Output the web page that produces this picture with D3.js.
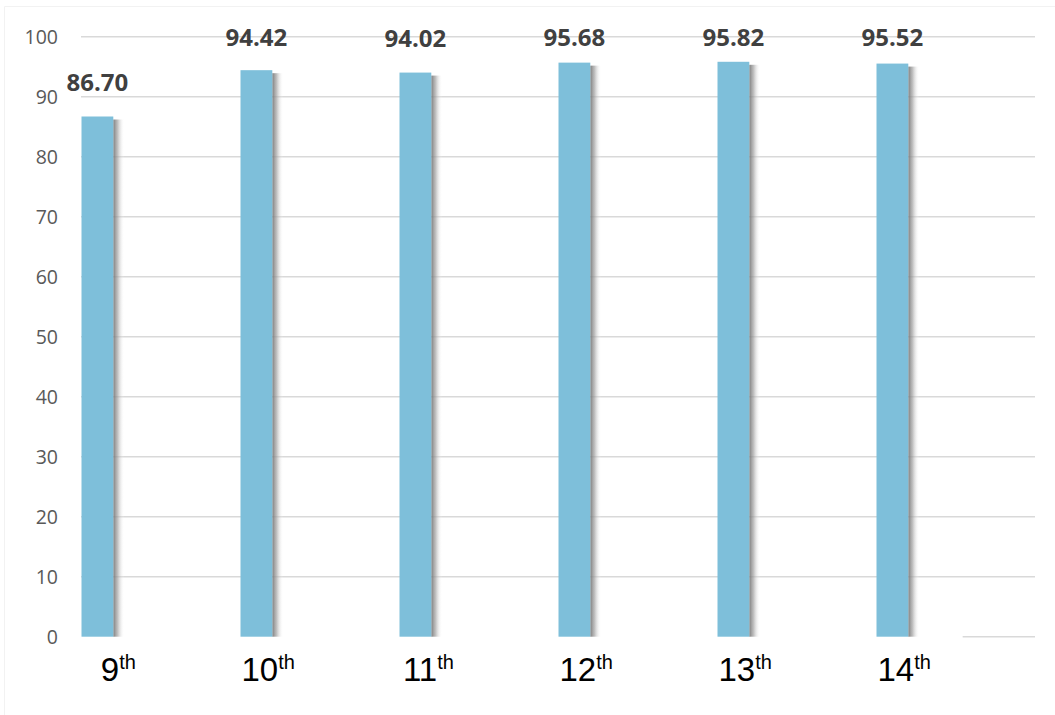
<!DOCTYPE html>
<html>
<head>
<meta charset="utf-8">
<script src="https://cdn.jsdelivr.net/npm/d3@7"></script>
<style>
  html, body { margin: 0; padding: 0; background: #fff; }
  svg { display: block; }
</style>
</head>
<body>
<svg id="chart" width="1055" height="715"></svg>
<script>
// ---- data ----
const categoryNumbers = ["9", "10", "11", "12", "13", "14"];
const categorySuffixes = ["th", "th", "th", "th", "th", "th"];
const values = [86.70, 94.42, 94.02, 95.68, 95.82, 95.52];
const yTicks = [0, 10, 20, 30, 40, 50, 60, 70, 80, 90, 100];

// ---- layout ----
const W = 1055, H = 715;
const plot = { left: 81, right: 1035, top: 36.7, bottom: 636.7 };
const svg = d3.select("#chart");

const x = d3.scaleBand().domain(categoryNumbers).range([plot.left, plot.right]).paddingInner(0).paddingOuter(0);
const y = d3.scaleLinear().domain([0, 100]).range([plot.bottom, plot.top]);
const bw = x.bandwidth();
const barW = bw * 0.2;

// defs: shadow gradient
const defs = svg.append("defs");
const grad = defs.append("linearGradient").attr("id", "shadowGrad").attr("x1", "0").attr("x2", "1").attr("y1", "0").attr("y2", "0");
grad.append("stop").attr("offset", "0%").attr("stop-color", "#707070").attr("stop-opacity", 0.9);
grad.append("stop").attr("offset", "40%").attr("stop-color", "#a0a0a0").attr("stop-opacity", 0.65);
grad.append("stop").attr("offset", "100%").attr("stop-color", "#ffffff").attr("stop-opacity", 0);

// faint outer border (top and left only)
svg.append("line").attr("x1", 4.5).attr("x2", W).attr("y1", 6.5).attr("y2", 6.5)
  .attr("stroke", "#f2f2f2").attr("stroke-width", 1);
svg.append("line").attr("x1", 4.5).attr("x2", 4.5).attr("y1", 6.5).attr("y2", H)
  .attr("stroke", "#f2f2f2").attr("stroke-width", 1);

// gridlines (excluding 0)
svg.append("g").selectAll("line").data(yTicks.filter(d => d !== 0)).join("line")
  .attr("x1", plot.left).attr("x2", plot.right)
  .attr("y1", d => y(d)).attr("y2", d => y(d))
  .attr("stroke", "#d9d9d9").attr("stroke-width", 1.5);

// partial baseline at right end
svg.append("line")
  .attr("x1", plot.right - bw * 0.455).attr("x2", plot.right)
  .attr("y1", y(0)).attr("y2", y(0))
  .attr("stroke", "#d9d9d9").attr("stroke-width", 1.5);

// y tick labels
svg.append("g").selectAll("text").data(yTicks).join("text")
  .attr("x", 58).attr("y", d => y(d)).attr("dy", "0.36em")
  .attr("text-anchor", "end")
  .attr("font-family", "'Open Sans', sans-serif").attr("font-size", 19.5)
  .attr("fill", "#595959")
  .text(d => d);

// bar shadows
svg.append("g").selectAll("rect").data(values).join("rect")
  .attr("x", (d, i) => x(categoryNumbers[i]) + 0.5 + barW)
  .attr("y", d => y(d) + 3)
  .attr("width", 11)
  .attr("height", d => y(0) - y(d) - 3)
  .attr("fill", "url(#shadowGrad)");

// bars
svg.append("g").selectAll("rect").data(values).join("rect")
  .attr("x", (d, i) => x(categoryNumbers[i]) + 0.5)
  .attr("y", d => y(d))
  .attr("width", barW)
  .attr("height", d => y(0) - y(d))
  .attr("fill", "#7EBFDA");

// value labels (kept inside the chart area at the top)
svg.append("g").selectAll("text").data(values).join("text")
  .attr("x", (d, i) => x(categoryNumbers[i]) + 0.5 + barW / 2)
  .attr("y", d => Math.max(y(d) - 26, plot.top + 9.5))
  .attr("text-anchor", "middle")
  .attr("font-family", "'Open Sans', sans-serif").attr("font-weight", "bold").attr("font-size", 24)
  .attr("fill", "#404040")
  .text(d => d.toFixed(2));

// category labels
const cat = svg.append("g").selectAll("text").data(categoryNumbers).join("text")
  .attr("x", d => x(d) + bw * 0.345)
  .attr("y", 681)
  .attr("text-anchor", "end")
  .attr("font-family", "'Liberation Sans', Arial, sans-serif").attr("font-size", 33)
  .attr("fill", "#000");
cat.append("tspan").text(d => d);
cat.append("tspan").attr("font-size", 20).attr("dy", -12).text((d, i) => categorySuffixes[i]);
</script>
</body>
</html>
